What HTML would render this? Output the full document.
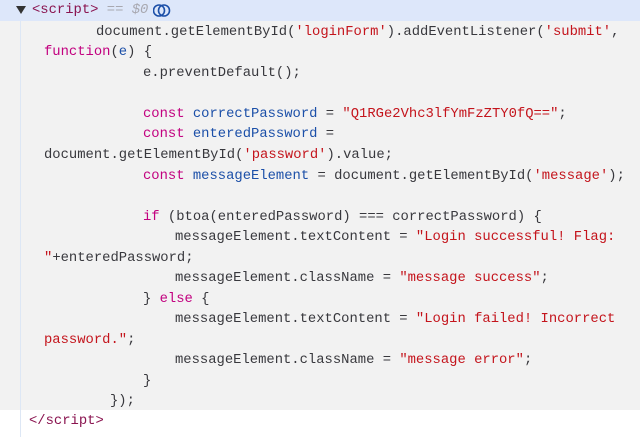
<!DOCTYPE html>
<html><head><meta charset="utf-8"><style>
html,body{margin:0;padding:0;width:640px;height:437px;overflow:hidden;background:#fff}
#hdr{position:absolute;left:0;top:0;width:640px;height:21px;background:#dde7fa}
#code{position:absolute;left:0;top:21px;width:640px;height:389px;background:#f2f2f2}
#guide{position:absolute;left:20px;top:21px;width:1px;height:416px;background:#dde7f5}
.l{position:absolute;white-space:pre;font-family:"Liberation Mono",monospace;font-size:13.85px;line-height:20px;color:#38383d}
.k{color:#c2007f}.v{color:#1b4fa8}.s{color:#c4141c}.t{color:#8a1450}.g{color:#a8a8b0;font-style:italic}
</style></head><body>
<div id="hdr"></div><div id="code"></div><div id="guide"></div>
<div style="position:absolute;left:16px;top:6px;width:0;height:0;border-left:5px solid transparent;border-right:5px solid transparent;border-top:8px solid #333"></div>
<div class="l" style="left:32px;top:0px"><span class="t">&lt;script&gt;</span> <span class="g">== $0</span></div>
<svg style="position:absolute;left:153px;top:3px" width="18" height="15" viewBox="0 0 18 15"><circle cx="6" cy="7.5" r="5.5" fill="none" stroke="#1b4fa8" stroke-width="1.6"/><circle cx="11" cy="7.5" r="5.5" fill="none" stroke="#1b4fa8" stroke-width="1.6"/></svg>
<div class="l" style="left:96px;top:22px">document.getElementById(<span class="s">'loginForm'</span>).addEventListener(<span class="s">'submit'</span>,</div>
<div class="l" style="left:44px;top:42px"><span class="k">function</span>(<span class="v">e</span>) {</div>
<div class="l" style="left:143px;top:63px">e.preventDefault();</div>
<div class="l" style="left:143px;top:104px"><span class="k">const</span> <span class="v">correctPassword</span> = <span class="s">"Q1RGe2Vhc3lfYmFzZTY0fQ=="</span>;</div>
<div class="l" style="left:143px;top:124px"><span class="k">const</span> <span class="v">enteredPassword</span> =</div>
<div class="l" style="left:44px;top:145px">document.getElementById(<span class="s">'password'</span>).value;</div>
<div class="l" style="left:143px;top:166px"><span class="k">const</span> <span class="v">messageElement</span> = document.getElementById(<span class="s">'message'</span>);</div>
<div class="l" style="left:143px;top:207px"><span class="k">if</span> (btoa(enteredPassword) === correctPassword) {</div>
<div class="l" style="left:175px;top:227px">messageElement.textContent = <span class="s">"Login successful! Flag:</span></div>
<div class="l" style="left:44px;top:248px"><span class="s">"</span>+enteredPassword;</div>
<div class="l" style="left:175px;top:268px">messageElement.className = <span class="s">"message success"</span>;</div>
<div class="l" style="left:143px;top:289px">} <span class="k">else</span> {</div>
<div class="l" style="left:175px;top:309px">messageElement.textContent = <span class="s">"Login failed! Incorrect</span></div>
<div class="l" style="left:44px;top:330px"><span class="s">password."</span>;</div>
<div class="l" style="left:175px;top:350px">messageElement.className = <span class="s">"message error"</span>;</div>
<div class="l" style="left:143px;top:371px">}</div>
<div class="l" style="left:110px;top:391px">});</div>
<div class="l" style="left:29px;top:411px"><span class="t">&lt;/script&gt;</span></div>
</body></html>
